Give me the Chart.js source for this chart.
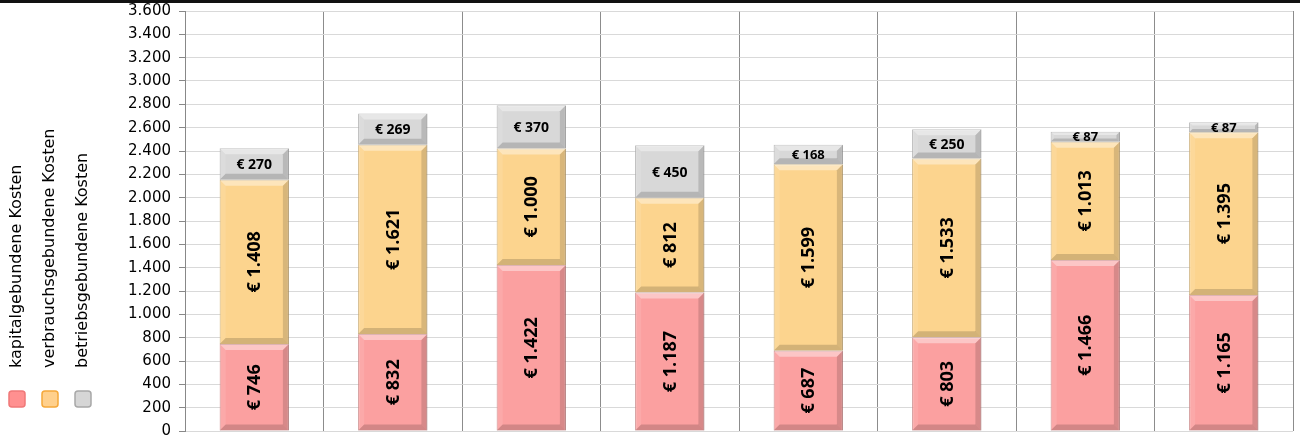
<!DOCTYPE html>
<html>
<head>
<meta charset="utf-8">
<script src="https://cdn.jsdelivr.net/npm/chart.js@4.4.1/dist/chart.umd.min.js"></script>
<style>
  html, body { margin: 0; padding: 0; background: #fff; }
  #wrap { position: relative; width: 1300px; height: 439px; }
  #topline { position: absolute; left: 0; top: 0; width: 1300px; height: 0; border-top: 3px solid #111; }
</style>
</head>
<body>
<div id="wrap">
  <canvas id="graph" width="1300" height="439"></canvas>
  <div id="topline"></div>
</div>
<script>
// data
const categories = ["1", "2", "3", "4", "5", "6", "7", "8"];
const seriesNames = ["kapitalgebundene Kosten", "verbrauchsgebundene Kosten", "betriebsgebundene Kosten"];
const kapital = [746, 832, 1422, 1187, 687, 803, 1466, 1165];
const verbrauch = [1408, 1621, 1000, 812, 1599, 1533, 1013, 1395];
const betrieb = [270, 269, 370, 450, 168, 250, 87, 87];

const fillColors = ["#FBA0A0", "#FCD48E", "#D8D8D8"];
const edgeColors = ["#C98080", "#C9A86E", "#A8A8A8"];
const legendFill = ["#FF9090", "#FFD08C", "#D6D6D6"];
const legendEdge = ["#F07878", "#F5A83A", "#A8A8A8"];

function fmt(n) {
  return String(n).replace(/\B(?=(\d{3})+(?!\d))/g, ".");
}

// bevel look + value labels
const barDecor = {
  id: "barDecor",
  afterDatasetsDraw(chart) {
    const ctx = chart.ctx;
    chart.data.datasets.forEach((ds, di) => {
      const meta = chart.getDatasetMeta(di);
      meta.data.forEach((bar, i) => {
        const L = bar.x - bar.width / 2, R = bar.x + bar.width / 2;
        const T = Math.min(bar.y, bar.base), B = Math.max(bar.y, bar.base);
        const h = B - T;
        const b = Math.min(6, h / 3);
        ctx.save();
        // top facet (light)
        ctx.fillStyle = "rgba(255,255,255,0.4)";
        ctx.beginPath();
        ctx.moveTo(L, T); ctx.lineTo(R, T); ctx.lineTo(R - b, T + b); ctx.lineTo(L + b, T + b);
        ctx.closePath(); ctx.fill();
        // left facet
        ctx.fillStyle = "rgba(255,255,255,0.1)";
        ctx.beginPath();
        ctx.moveTo(L, T); ctx.lineTo(L + b, T + b); ctx.lineTo(L + b, B - b); ctx.lineTo(L, B);
        ctx.closePath(); ctx.fill();
        // right facet
        ctx.fillStyle = "rgba(0,0,0,0.14)";
        ctx.beginPath();
        ctx.moveTo(R, T); ctx.lineTo(R, B); ctx.lineTo(R - b, B - b); ctx.lineTo(R - b, T + b);
        ctx.closePath(); ctx.fill();
        // bottom facet
        ctx.fillStyle = "rgba(0,0,0,0.16)";
        ctx.beginPath();
        ctx.moveTo(L, B); ctx.lineTo(R, B); ctx.lineTo(R - b, B - b); ctx.lineTo(L + b, B - b);
        ctx.closePath(); ctx.fill();

        // label
        const txt = "€ " + fmt(ds.data[i]);
        ctx.fillStyle = "#000";
        ctx.textAlign = "center";
        ctx.textBaseline = "middle";
        const cy = (T + B) / 2;
        if (di < 2) {
          ctx.font = "bold 18px 'Open Sans', 'Noto Sans', sans-serif";
          ctx.translate(bar.x, cy);
          ctx.rotate(-Math.PI / 2);
          ctx.fillText(txt, 0, 1);
        } else {
          ctx.font = (h < 20 ? "bold 13px" : "bold 14px") + " 'Open Sans', 'Noto Sans', sans-serif";
          ctx.fillText(txt, bar.x, cy + 1);
        }
        ctx.restore();
      });
    });
  },
  afterDraw(chart) {
    // vertical legend on the left
    const ctx = chart.ctx;
    const cols = [17, 50, 83];
    ctx.save();
    chart.data.datasets.forEach((ds, di) => {
      const x = cols[di];
      ctx.fillStyle = legendFill[di];
      ctx.strokeStyle = legendEdge[di];
      ctx.lineWidth = 1.5;
      ctx.beginPath();
      ctx.roundRect(x - 8, 391, 16, 16, 3);
      ctx.fill();
      ctx.stroke();
      ctx.save();
      ctx.translate(x, 368);
      ctx.rotate(-Math.PI / 2);
      ctx.fillStyle = "#000";
      ctx.font = "16px 'DejaVu Sans', sans-serif";
      ctx.textAlign = "left";
      ctx.textBaseline = "middle";
      ctx.fillText(ds.label, 0, 0);
      ctx.restore();
    });
    ctx.restore();
  }
};

const ctx = document.getElementById("graph").getContext("2d");
new Chart(ctx, {
  type: "bar",
  data: {
    labels: categories,
    datasets: [
      { label: seriesNames[0], data: kapital, backgroundColor: fillColors[0], borderColor: edgeColors[0], borderWidth: 1 },
      { label: seriesNames[1], data: verbrauch, backgroundColor: fillColors[1], borderColor: edgeColors[1], borderWidth: 1 },
      { label: seriesNames[2], data: betrieb, backgroundColor: fillColors[2], borderColor: edgeColors[2], borderWidth: 1 },
    ],
  },
  options: {
    responsive: false,
    animation: false,
    layout: { padding: { left: 0, right: 7, top: 11, bottom: 8 } },
    datasets: { bar: { categoryPercentage: 1.0, barPercentage: 0.5 } },
    plugins: { legend: { display: false }, tooltip: { enabled: false } },
    scales: {
      x: {
        stacked: true,
        afterFit(scale) { scale.height = 0; },
        ticks: { display: false },
        grid: { color: "#8c8c8c", drawTicks: false, offset: true },
        border: { display: false },
      },
      y: {
        stacked: true,
        min: 0,
        max: 3600,
        afterFit(scale) {
          scale.width = 185;
          scale.paddingTop = 0;
          scale.paddingBottom = 0;
        },
        ticks: {
          stepSize: 200,
          padding: 8,
          color: "#000",
          font: { family: "'DejaVu Sans', sans-serif", size: 15 },
          callback: (v) => fmt(v),
        },
        grid: { color: "#d9d9d9", tickColor: "#888", tickLength: 6 },
        border: { color: "#888" },
      },
    },
  },
  plugins: [barDecor],
});
</script>
</body>
</html>
